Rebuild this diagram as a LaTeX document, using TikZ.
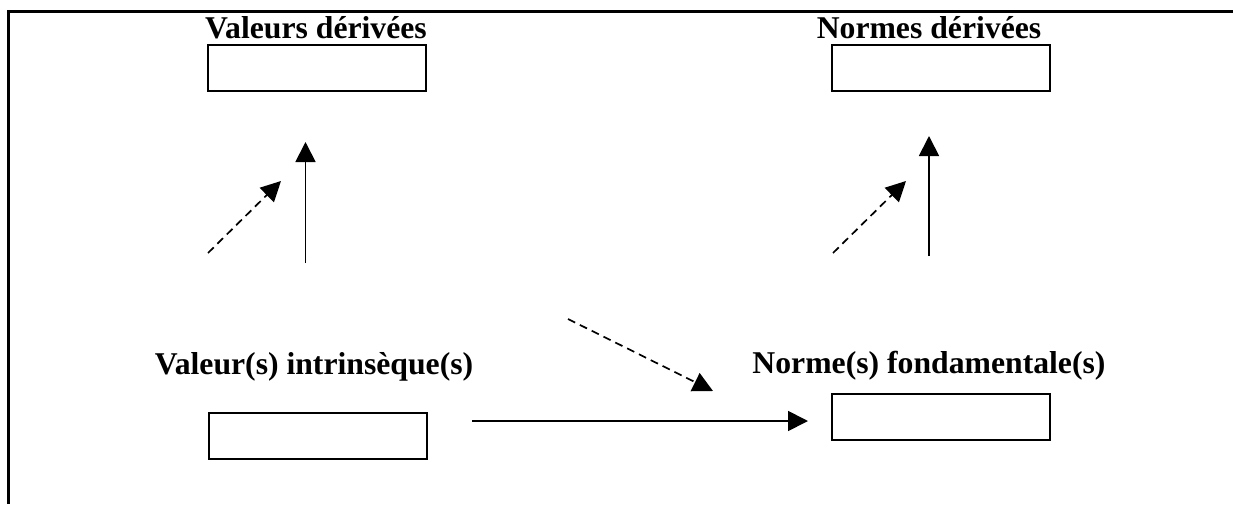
\documentclass[tikz,border=0pt]{standalone}
\usepackage{fontspec}
\setmainfont{Liberation Serif}
\usetikzlibrary{arrows.meta}
\begin{document}
\begin{tikzpicture}[x=0.5pt,y=-0.5pt,
  emptybox/.style={draw,line width=1pt,minimum width=109pt,minimum height=23pt,inner sep=0pt},
  title/.style={font=\fontsize{15.85}{19}\selectfont\bfseries,anchor=base,inner sep=0pt},
  solidarrow/.style={line width=0.9pt,-{Triangle[length=10pt,width=10pt]}},
  dasharrow/.style={line width=0.85pt,dash pattern=on 4pt off 2.6pt,-{Triangle[length=10pt,width=10pt]}},
  frameline/.style={line width=1.5pt}]
\useasboundingbox (0,0) rectangle (1233,504);
% frame (top and left edges)
\coordinate (ftr) at (1233,11);
\coordinate (ftl) at (8,11);
\coordinate (fbl) at (8,504);
\draw[frameline] (ftr) -- (ftl) -- (fbl);
% titles
\node[title] (tvd) at (316,38) {Valeurs dérivées};
\node[title] (tnd) at (929,38) {Normes dérivées};
\node[title] (tvi) at (314,374) {Valeur(s) intrinsèque(s)};
\node[title] (tnf) at (929,373) {Norme(s) fondamentale(s)};
% boxes
\node[emptybox] (bvd) at (317,68) {};
\node[emptybox] (bnd) at (940.5,68) {};
\node[emptybox] (bvi) at (317.5,435.5) {};
\node[emptybox] (bnf) at (941,416.5) {};
% arrow end points
\coordinate (a1s) at (305.5,263);
\coordinate (a1e) at (305.5,142);
\coordinate (a2s) at (208,253);
\coordinate (a2e) at (281,181);
\coordinate (a3s) at (929,256);
\coordinate (a3e) at (929,136);
\coordinate (a4s) at (833,253);
\coordinate (a4e) at (906,181);
\coordinate (a5s) at (568,319);
\coordinate (a5e) at (713,391);
\coordinate (a6s) at (472,421);
\coordinate (a6e) at (808,421);
% arrows
\draw[solidarrow] (a1s) -- (a1e);
\draw[dasharrow] (a2s) -- (a2e);
\draw[solidarrow] (a3s) -- (a3e);
\draw[dasharrow] (a4s) -- (a4e);
\draw[dasharrow] (a5s) -- (a5e);
\draw[solidarrow] (a6s) -- (a6e);
\end{tikzpicture}
\end{document}
